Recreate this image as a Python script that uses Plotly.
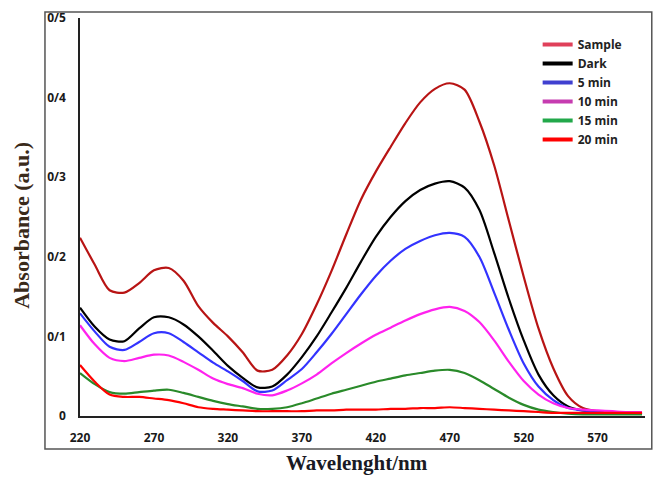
import plotly.graph_objects as go

wavelength = list(range(220, 601, 10))

sample = [0.224, 0.190, 0.158, 0.155, 0.167, 0.183, 0.186, 0.170, 0.138, 0.117,
          0.100, 0.080, 0.057, 0.058, 0.076, 0.103, 0.140, 0.182, 0.228, 0.272,
          0.307, 0.338, 0.368, 0.394, 0.411, 0.418, 0.410, 0.370, 0.315, 0.245,
          0.175, 0.110, 0.060, 0.025, 0.010, 0.006, 0.005, 0.004, 0.004]
dark = [0.136, 0.112, 0.096, 0.094, 0.110, 0.124, 0.124, 0.115, 0.100, 0.082,
        0.063, 0.048, 0.036, 0.037, 0.052, 0.074, 0.100, 0.130, 0.161, 0.194,
        0.225, 0.250, 0.270, 0.284, 0.292, 0.295, 0.287, 0.259, 0.205, 0.147,
        0.095, 0.052, 0.026, 0.012, 0.007, 0.005, 0.004, 0.003, 0.003]
min5 = [0.129, 0.106, 0.087, 0.083, 0.093, 0.104, 0.104, 0.093, 0.080, 0.067,
        0.056, 0.044, 0.031, 0.032, 0.045, 0.059, 0.080, 0.103, 0.128, 0.153,
        0.176, 0.195, 0.210, 0.220, 0.227, 0.230, 0.225, 0.200, 0.155, 0.108,
        0.066, 0.037, 0.020, 0.010, 0.007, 0.005, 0.004, 0.004, 0.004]
min10 = [0.114, 0.090, 0.073, 0.069, 0.073, 0.077, 0.076, 0.068, 0.058, 0.047,
         0.040, 0.035, 0.028, 0.026, 0.032, 0.041, 0.052, 0.066, 0.079, 0.091,
         0.102, 0.111, 0.120, 0.128, 0.134, 0.137, 0.132, 0.118, 0.095, 0.068,
         0.044, 0.027, 0.016, 0.010, 0.008, 0.007, 0.006, 0.005, 0.005]
min15 = [0.054, 0.040, 0.030, 0.028, 0.030, 0.032, 0.033, 0.029, 0.024, 0.019,
         0.015, 0.012, 0.009, 0.009, 0.011, 0.016, 0.022, 0.028, 0.033, 0.038,
         0.043, 0.047, 0.051, 0.054, 0.057, 0.058, 0.054, 0.045, 0.034, 0.023,
         0.014, 0.008, 0.005, 0.003, 0.002, 0.002, 0.002, 0.002, 0.002]
min20 = [0.064, 0.043, 0.027, 0.024, 0.024, 0.022, 0.020, 0.016, 0.011, 0.009,
         0.008, 0.007, 0.006, 0.006, 0.006, 0.006, 0.007, 0.007, 0.008, 0.008,
         0.008, 0.009, 0.009, 0.010, 0.010, 0.011, 0.010, 0.009, 0.008, 0.007,
         0.006, 0.005, 0.004, 0.004, 0.004, 0.004, 0.004, 0.004, 0.004]

series_names = ["Sample", "Dark", "5 min", "10 min", "15 min", "20 min"]
series_values = [sample, dark, min5, min10, min15, min20]
line_colors = ["#b81414", "#000000", "#3333ff", "#ff22ee", "#2a8a2a", "#ff0000"]
legend_colors = ["#e0405a", "#000000", "#4040d0", "#c63cb0", "#22a84a", "#ff0000"]

x_ticks = [220, 270, 320, 370, 420, 470, 520, 570]
y_ticks = [0, 0.1, 0.2, 0.3, 0.4, 0.5]
y_ticktext = ["0", "0/1", "0/2", "0/3", "0/4", "0/5"]

fig = go.Figure()
for name, vals, col in zip(series_names, series_values, line_colors):
    fig.add_trace(go.Scatter(x=wavelength, y=vals, mode="lines", name=name,
                             line=dict(color=col, width=2.2, shape="spline", smoothing=0.8),
                             showlegend=False))
for name, col in zip(series_names, legend_colors):
    fig.add_trace(go.Scatter(x=[None], y=[None], mode="lines", name=name,
                             line=dict(color=col, width=4)))

tick_font = dict(family="Open Sans, Liberation Sans, sans-serif", size=12,
                 color="#1a1a1a", weight="bold")

fig.update_layout(
    width=654, height=477,
    margin=dict(l=80, r=9, t=18, b=61),
    paper_bgcolor="white", plot_bgcolor="white",
    xaxis=dict(range=[220, 602], tickvals=x_ticks, ticktext=[str(v) for v in x_ticks],
               showgrid=False, zeroline=False, showline=True, linecolor="#222",
               linewidth=1.5, ticks="", tickfont=tick_font, ticklabelstandoff=10),
    yaxis=dict(range=[0, 0.5], tickvals=y_ticks, ticktext=y_ticktext,
               showgrid=False, zeroline=False, showline=True, linecolor="#222",
               linewidth=1.5, ticks="", tickfont=tick_font, ticklabelstandoff=10),
    legend=dict(x=0.81, y=0.97, xanchor="left", yanchor="top",
                bgcolor="rgba(0,0,0,0)", tracegroupgap=0,
                font=dict(family="Open Sans, Liberation Sans, sans-serif", size=12,
                          color="#222", weight="bold")),
    showlegend=True,
)

fig.add_shape(type="rect", xref="paper", yref="paper",
              x0=-0.062, x1=1.012, y0=-0.083, y1=1.015,
              line=dict(color="#555", width=1.5), fillcolor="rgba(0,0,0,0)")

fig.add_annotation(text="<b>Absorbance (a.u.)</b>", xref="paper", yref="paper",
                   x=-0.103, y=0.48, xanchor="center", yanchor="middle",
                   textangle=-90, showarrow=False,
                   font=dict(family="Liberation Serif, Times New Roman, serif", size=22, color="#3a2a1a"))
fig.add_annotation(text="<b>Wavelenght/nm</b>", xref="paper", yref="paper",
                   x=0.49, y=-0.118, xanchor="center", yanchor="middle", showarrow=False,
                   font=dict(family="Liberation Serif, Times New Roman, serif", size=21, color="#1a1a24"))

fig.write_html("out.html", config={"displayModeBar": False},
               post_script="document.body.style.margin='0';")
